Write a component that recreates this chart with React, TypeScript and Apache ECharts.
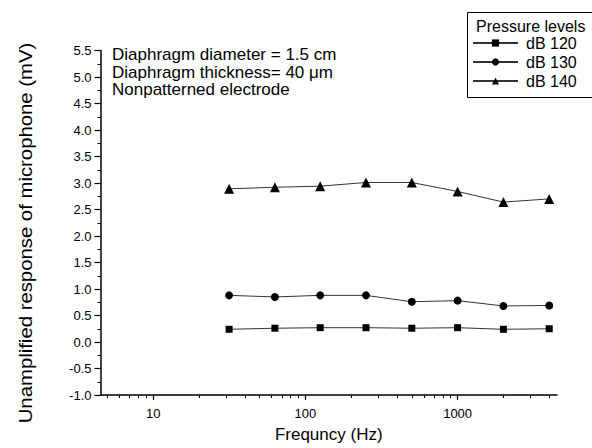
import React, { useEffect, useRef } from "react";
import * as echarts from "echarts";

const freqs = [31.5, 63, 125, 250, 500, 1000, 2000, 4000];
const db120 = [0.24, 0.26, 0.27, 0.27, 0.26, 0.27, 0.24, 0.25];
const db130 = [0.88, 0.85, 0.88, 0.88, 0.76, 0.78, 0.68, 0.69];
const db140 = [2.89, 2.92, 2.94, 3.01, 3.01, 2.84, 2.64, 2.7];
const seriesNames = ["dB 120", "dB 130", "dB 140"];
const symbols = ["rect", "circle", "triangle"];
const majorX = [10, 100, 1000];
const minorX = [5, 6, 7, 8, 9, 20, 30, 40, 50, 60, 70, 80, 90, 200, 300, 400, 500, 600, 700, 800, 900, 2000, 3000, 4000];
const annotations = ["Diaphragm diameter = 1.5 cm", "Diaphragm thickness= 40 \u03bcm", "Nonpatterned electrode"];
const yTitle = "Unamplified response of microphone (mV)";
const xTitle = "Frequncy (Hz)";
const legendTitle = "Pressure levels";

const FONT = "'Liberation Sans', Arial, sans-serif";

export default function App() {
  const ref = useRef<HTMLDivElement>(null);
  useEffect(() => {
    if (!ref.current) return;
    const chart = echarts.init(ref.current, undefined, { renderer: "svg" });
    const values = [db120, db130, db140];
    const symSizes = [7, 8, 10];
    const option: any = {
      animation: false,
      backgroundColor: "#fff",
      textStyle: { fontFamily: FONT },
      grid: { left: 100.5, right: 35, top: 50.5, bottom: 47, containLabel: false },
      legend: {
        data: seriesNames,
        orient: "vertical",
        left: 472,
        top: 35,
        itemWidth: 45,
        itemHeight: 9,
        itemGap: 3,
        padding: 0,
        textStyle: { fontFamily: FONT, fontSize: 16, color: "#000", padding: [0, 0, 0, 3] },
        inactiveColor: "#000",
        selectedMode: false,
      },
      xAxis: [
        {
          type: "log",
          logBase: 10,
          min: 4.5,
          max: 4500,
          name: xTitle,
          nameLocation: "middle",
          nameGap: 31,
          nameTextStyle: { fontFamily: FONT, fontSize: 17, color: "#000" },
          axisLine: { show: true, onZero: false, lineStyle: { color: "#000", width: 1.5 } },
          axisTick: { show: true, customValues: majorX, length: 5, lineStyle: { color: "#000", width: 1.2 } },
          axisLabel: {
            customValues: majorX,
            color: "#000",
            fontSize: 13,
            fontFamily: FONT,
            margin: 12,
            formatter: (v: number) => String(v),
          },
          splitLine: { show: false },
          minorTick: { show: false },
        },
        {
          type: "log",
          logBase: 10,
          min: 4.5,
          max: 4500,
          position: "bottom",
          axisLine: { show: false, onZero: false },
          axisTick: { show: true, customValues: minorX, length: 3, lineStyle: { color: "#000", width: 1 } },
          axisLabel: { show: false },
          splitLine: { show: false },
        },
      ],
      yAxis: {
        type: "value",
        min: -1,
        max: 5.5,
        interval: 0.5,
        axisLine: { show: true, onZero: false, lineStyle: { color: "#000", width: 1.5 } },
        axisTick: { show: true, length: 6, lineStyle: { color: "#000", width: 1.2 } },
        minorTick: { show: true, splitNumber: 2, length: 3, lineStyle: { color: "#000", width: 1 } },
        axisLabel: {
          color: "#000",
          fontSize: 13,
          fontFamily: FONT,
          margin: 9,
          formatter: (v: number) => v.toFixed(1),
        },
        splitLine: { show: false },
      },
      series: seriesNames.map((name, k) => ({
        name,
        type: "line",
        xAxisIndex: 0,
        data: freqs.map((f, i) => [f, values[k][i]]),
        symbol: symbols[k],
        symbolSize: symSizes[k],
        showSymbol: true,
        itemStyle: { color: "#000" },
        lineStyle: { color: "#333", width: 1 },
      })),
      graphic: [
        {
          type: "rect",
          left: 465,
          top: 10,
          shape: { width: 140, height: 85 },
          style: { fill: "none", stroke: "#000", lineWidth: 1 },
          z: 10,
        },
        {
          type: "text",
          x: 476,
          y: 26.5,
          style: { text: legendTitle, fontSize: 16, fontFamily: FONT, fill: "#000", verticalAlign: "middle" },
          z: 10,
        },
        {
          type: "text",
          x: 25.5,
          y: 233,
          rotation: Math.PI / 2,
          scaleX: 1.13,
          style: {
            text: yTitle,
            fontSize: 18,
            fontFamily: FONT,
            fill: "#000",
            align: "center",
            verticalAlign: "middle",
          },
          z: 10,
        },
        ...annotations.map((t, i) => ({
          type: "text",
          x: 112,
          y: 54.5 + i * 17.5,
          style: { text: t, fontSize: 17, fontFamily: FONT, fill: "#000", verticalAlign: "middle" },
          z: 10,
        })),
      ],
    };
    chart.setOption(option);
    return () => chart.dispose();
  }, []);
  return <div ref={ref} style={{ width: 592, height: 448, position: "absolute", left: 0, top: 0 }} />;
}
